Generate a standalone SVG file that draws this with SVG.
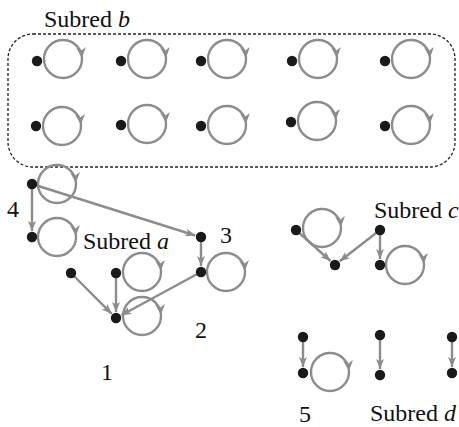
<svg xmlns="http://www.w3.org/2000/svg" xmlns:xlink="http://www.w3.org/1999/xlink" width="459" height="427" viewBox="0 0 459 427">
<style>
.dot{fill:#1a1a1a}
.edge{stroke:#8c8c8c;stroke-width:2.4;fill:none;marker-end:url(#ah)}
.lbl{font-family:"Liberation Serif","Times New Roman",serif;font-size:24px;fill:#111}
.it{font-style:italic}
</style>
<defs>
<marker id="ah" viewBox="0 0 10 8" refX="10" refY="4" markerWidth="10" markerHeight="8" markerUnits="userSpaceOnUse" orient="auto">
<path d="M0,0 L10,4 L0,8 L2.5,4 Z" fill="#8c8c8c"/>
</marker>
<g id="loop">
<circle r="19" fill="none" stroke="#8c8c8c" stroke-width="2.4"/>
<path d="M18.9,-1.2 L23,-12 L18.3,-8.4 L13.2,-11.2 Z" fill="#8c8c8c"/>
</g>
</defs>
<rect x="8" y="34" width="447" height="133" rx="25" ry="25" fill="none" stroke="#222" stroke-width="1.3" stroke-dasharray="3 2"/>
<text class="lbl" x="44" y="27">Subred <tspan class="it">b</tspan></text>
<text class="lbl" x="83" y="249">Subred <tspan class="it">a</tspan></text>
<text class="lbl" x="374" y="218">Subred <tspan class="it">c</tspan></text>
<text class="lbl" x="370" y="421">Subred <tspan class="it">d</tspan></text>
<text class="lbl" x="7" y="217">4</text>
<text class="lbl" x="220" y="243">3</text>
<text class="lbl" x="195" y="338">2</text>
<text class="lbl" x="101" y="380">1</text>
<text class="lbl" x="299" y="422">5</text>
<g id="connectors">
<line class="edge" x1="32" y1="184" x2="32" y2="231"/>
<line class="edge" x1="32" y1="184" x2="195.3" y2="235.5"/>
<line class="edge" x1="201" y1="237" x2="201" y2="266"/>
<line class="edge" x1="71" y1="273" x2="111.7" y2="313.8"/>
<line class="edge" x1="116" y1="273" x2="116" y2="312"/>
<line class="edge" x1="201" y1="272" x2="121.3" y2="315.2"/>
<line class="edge" x1="296" y1="230" x2="330.5" y2="261"/>
<line class="edge" x1="380" y1="230" x2="339.7" y2="261.3"/>
<line class="edge" x1="380" y1="230" x2="380" y2="259"/>
<line class="edge" x1="303" y1="337" x2="303" y2="367"/>
<line class="edge" x1="380" y1="335" x2="380" y2="369"/>
<line class="edge" x1="452" y1="337" x2="452" y2="367"/>
</g>
<g id="b1"><use xlink:href="#loop" x="63" y="59"/><circle class="dot" cx="37" cy="61" r="5.2"/></g>
<g id="b2"><use xlink:href="#loop" x="147" y="59"/><circle class="dot" cx="121" cy="61" r="5.2"/></g>
<g id="b3"><use xlink:href="#loop" x="227" y="59"/><circle class="dot" cx="201" cy="61" r="5.2"/></g>
<g id="b4"><use xlink:href="#loop" x="318" y="59"/><circle class="dot" cx="292" cy="61" r="5.2"/></g>
<g id="b5"><use xlink:href="#loop" x="411" y="59"/><circle class="dot" cx="385" cy="61" r="5.2"/></g>
<g id="b6"><use xlink:href="#loop" x="62" y="126"/><circle class="dot" cx="36" cy="126" r="5.2"/></g>
<g id="b7"><use xlink:href="#loop" x="147" y="124"/><circle class="dot" cx="121" cy="125" r="5.2"/></g>
<g id="b8"><use xlink:href="#loop" x="227" y="125"/><circle class="dot" cx="201" cy="126" r="5.2"/></g>
<g id="b9"><use xlink:href="#loop" x="317" y="121"/><circle class="dot" cx="291" cy="122" r="5.2"/></g>
<g id="b10"><use xlink:href="#loop" x="411" y="125"/><circle class="dot" cx="385" cy="126" r="5.2"/></g>
<g id="a4top"><use xlink:href="#loop" x="57" y="184"/><circle class="dot" cx="32" cy="184" r="5.2"/></g>
<g id="a4bot"><use xlink:href="#loop" x="57" y="237"/><circle class="dot" cx="32" cy="237" r="5.2"/></g>
<g id="a3top"><circle class="dot" cx="201" cy="237" r="5.2"/></g>
<g id="a3bot"><use xlink:href="#loop" x="226" y="272"/><circle class="dot" cx="201" cy="272" r="5.2"/></g>
<g id="a1left"><circle class="dot" cx="71" cy="273" r="5.2"/></g>
<g id="a1mid"><use xlink:href="#loop" x="142" y="272"/><circle class="dot" cx="116" cy="273" r="5.2"/></g>
<g id="a1bot"><use xlink:href="#loop" x="142" y="316"/><circle class="dot" cx="116" cy="318" r="5.2"/></g>
<g id="c1"><use xlink:href="#loop" x="322" y="228"/><circle class="dot" cx="296" cy="230" r="5.2"/></g>
<g id="c2"><circle class="dot" cx="335" cy="265" r="5.2"/></g>
<g id="c3"><circle class="dot" cx="380" cy="230" r="5.2"/></g>
<g id="c4"><use xlink:href="#loop" x="405" y="265"/><circle class="dot" cx="380" cy="265" r="5.2"/></g>
<g id="d1"><circle class="dot" cx="303" cy="337" r="5.2"/></g>
<g id="d2"><use xlink:href="#loop" x="330" y="372"/><circle class="dot" cx="303" cy="373" r="5.2"/></g>
<g id="d3"><circle class="dot" cx="380" cy="335" r="5.2"/></g>
<g id="d4"><circle class="dot" cx="380" cy="375" r="5.2"/></g>
<g id="d5"><circle class="dot" cx="452" cy="337" r="5.2"/></g>
<g id="d6"><circle class="dot" cx="452" cy="373" r="5.2"/></g>
</svg>
